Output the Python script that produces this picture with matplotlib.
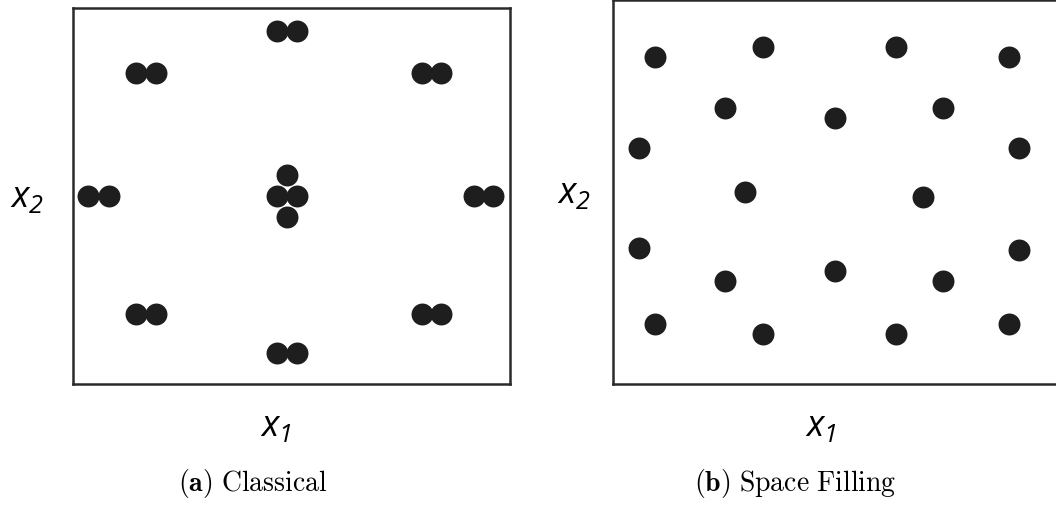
import matplotlib
matplotlib.use("Agg")
import matplotlib.pyplot as plt

plt.rcParams['mathtext.fontset'] = 'custom'
plt.rcParams['mathtext.it'] = 'Open Sans:italic'
plt.rcParams['mathtext.rm'] = 'Open Sans:italic'

# classical design (central composite with replicated runs), unit square
x_classical = [0.468, 0.513,  0.145, 0.190,  0.798, 0.843,
               0.036, 0.083,  0.917, 0.962,
               0.490, 0.468, 0.513, 0.490,
               0.145, 0.190,  0.798, 0.843,  0.468, 0.513]
y_classical = [0.940, 0.940,  0.827, 0.827,  0.827, 0.827,
               0.500, 0.500,  0.500, 0.500,
               0.555, 0.500, 0.500, 0.445,
               0.186, 0.186,  0.186, 0.186,  0.082, 0.082]

# space filling design, unit square
x_space = [0.094, 0.335, 0.630, 0.880,
           0.250, 0.495, 0.734,
           0.058, 0.902,
           0.295, 0.689,
           0.058, 0.902,
           0.250, 0.495, 0.734,
           0.094, 0.335, 0.630, 0.880]
y_space = [0.851, 0.878, 0.878, 0.851,
           0.718, 0.692, 0.718,
           0.615, 0.615,
           0.499, 0.486,
           0.354, 0.347,
           0.267, 0.294, 0.267,
           0.156, 0.130, 0.130, 0.156]

captions = [r'$\mathbf{(a)}\ \mathrm{Classical}$', r'$\mathbf{(b)}\ \mathrm{Space\ Filling}$']

W, H = 1056, 506
fig = plt.figure(figsize=(W / 100, H / 100), dpi=100)

ax1 = fig.add_axes([72.5 / W, (H - 385) / H, 437.5 / W, 376 / H])
ax2 = fig.add_axes([612.7 / W, (H - 384.5) / H, 450 / W, 383.5 / H])

dot_col = '#1e1e1e'
for ax, xs, ys in [(ax1, x_classical, y_classical), (ax2, x_space, y_space)]:
    ax.plot(xs, ys, 'o', color=dot_col, markersize=15.8, markeredgewidth=0)
    ax.set_xlim(0, 1)
    ax.set_ylim(0, 1)
    ax.set_xticks([])
    ax.set_yticks([])
    for s in ax.spines.values():
        s.set_linewidth(1.8)
        s.set_color('#2a2a2a')

# axis names
lab = dict(fontsize=26, ha='center', va='center', math_fontfamily='custom')
fig.text(27 / W, 1 - 198 / H, '$x_2$', **lab)
fig.text(574 / W, 1 - 194 / H, '$x_2$', **lab)
fig.text(276 / W, 1 - 427 / H, '$x_1$', **lab)
fig.text(821 / W, 1 - 427 / H, '$x_1$', **lab)

# sub-figure captions
cap = dict(fontsize=20, ha='center', va='center', math_fontfamily='cm')
fig.text(253 / W, 1 - 484 / H, captions[0], **cap)
fig.text(795 / W, 1 - 484 / H, captions[1], **cap)

fig.savefig('out.png', dpi=100)
